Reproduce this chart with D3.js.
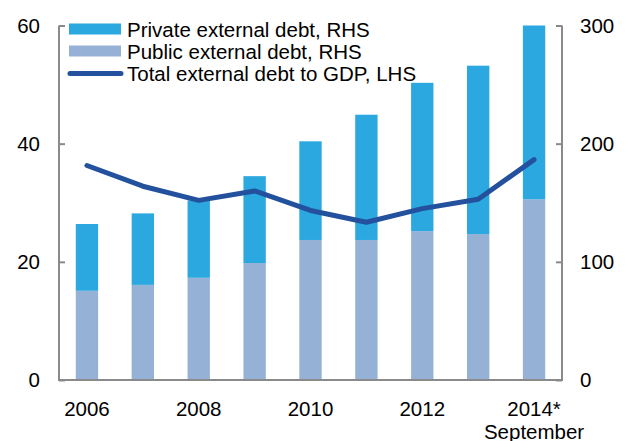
<!DOCTYPE html>
<html>
<head>
<meta charset="utf-8">
<title>External debt</title>
<script src="https://d3js.org/d3.v7.min.js"></script>
<style>
  body { margin: 0; background: #fff; }
  svg { display: block; font-family: "Liberation Sans", Arial, sans-serif; }
</style>
</head>
<body>
<div id="chart"></div>
<script>
// data
var years = ["2006", "2007", "2008", "2009", "2010", "2011", "2012", "2013", "2014*"];
var publicDebt = [75.5, 80.5, 86.5, 99, 118.5, 118.5, 126, 123.5, 153];
var privateDebt = [56.5, 60.5, 65.5, 73.5, 83.5, 106, 125.5, 142.5, 147];
var debtToGdp = [36.3, 32.8, 30.4, 32.0, 28.7, 26.7, 29.0, 30.6, 37.3];
var leftTicks = [0, 20, 40, 60];
var rightTicks = [0, 100, 200, 300];
var xLabels = ["2006", "2008", "2010", "2012", "2014*"];

var W = 626, H = 441;
var mLeft = 59, mRight = 562, mTop = 25.5, mBottom = 380;
var fs = 20.5;
var colPrivate = "#2ba8df", colPublic = "#95b2d6", colLine = "#23519e", colAxis = "#8a8a8c";

var svg = d3.select("#chart").append("svg")
    .attr("width", W).attr("height", H);

var x = d3.scaleBand()
    .domain(years)
    .range([mLeft, mRight])
    .paddingInner(0.6)
    .paddingOuter(0.3);

var yL = d3.scaleLinear().domain([0, 60]).range([mBottom, mTop]);
var yR = d3.scaleLinear().domain([0, 300]).range([mBottom, mTop]);

// bars - public at bottom, private stacked on top
var g = svg.append("g");
years.forEach(function (yr, i) {
    g.append("rect")
        .attr("x", x(yr)).attr("width", x.bandwidth())
        .attr("y", yR(publicDebt[i]))
        .attr("height", mBottom - yR(publicDebt[i]))
        .attr("fill", colPublic);
    g.append("rect")
        .attr("x", x(yr)).attr("width", x.bandwidth())
        .attr("y", yR(publicDebt[i] + privateDebt[i]))
        .attr("height", yR(publicDebt[i]) - yR(publicDebt[i] + privateDebt[i]))
        .attr("fill", colPrivate);
});

// line
var line = d3.line()
    .x(function (d, i) { return x(years[i]) + x.bandwidth() / 2; })
    .y(function (d) { return yL(d); });
svg.append("path")
    .datum(debtToGdp)
    .attr("d", line)
    .attr("fill", "none")
    .attr("stroke", colLine)
    .attr("stroke-width", 5)
    .attr("stroke-linejoin", "round")
    .attr("stroke-linecap", "round");

// axes
var axL = svg.append("g").attr("transform", "translate(" + mLeft + ",0)")
    .call(d3.axisRight(yL).tickValues(leftTicks).tickSize(6).tickFormat(""));
var axR = svg.append("g").attr("transform", "translate(" + mRight + ",0)")
    .call(d3.axisLeft(yR).tickValues(rightTicks).tickSize(6).tickFormat(""));
[axL, axR].forEach(function (a) {
    a.select(".domain").remove();
    a.selectAll("line").attr("stroke", colAxis).attr("stroke-width", 2);
});
svg.append("path")
    .attr("d", "M" + mLeft + "," + mTop + "V" + mBottom + "H" + mRight + "V" + mTop)
    .attr("fill", "none").attr("stroke", colAxis).attr("stroke-width", 2);

// tick labels
svg.selectAll(".ll").data(leftTicks).enter().append("text")
    .attr("x", 40).attr("y", function (d) { return yL(d) + 7; })
    .attr("text-anchor", "end").attr("font-size", fs)
    .text(function (d) { return d; });
svg.selectAll(".rl").data(rightTicks).enter().append("text")
    .attr("x", 580).attr("y", function (d) { return yR(d) + 7; })
    .attr("text-anchor", "start").attr("font-size", fs)
    .text(function (d) { return d; });
svg.selectAll(".xl").data(xLabels).enter().append("text")
    .attr("x", function (d) { return x(d) + x.bandwidth() / 2; })
    .attr("y", 416)
    .attr("text-anchor", "middle").attr("font-size", fs)
    .text(function (d) { return d; });
svg.append("text")
    .attr("x", x("2014*") + x.bandwidth() / 2).attr("y", 439)
    .attr("text-anchor", "middle").attr("font-size", fs)
    .text("September");

// legend
var legend = [
    { label: "Private external debt, RHS", type: "rect", color: colPrivate },
    { label: "Public external debt, RHS", type: "rect", color: colPublic },
    { label: "Total external debt to GDP, LHS", type: "line", color: colLine }
];
legend.forEach(function (d, i) {
    var cy = 29 + i * 22;
    if (d.type === "rect") {
        svg.append("rect").attr("x", 69).attr("y", cy - 5.5)
            .attr("width", 52).attr("height", 11).attr("fill", d.color);
    } else {
        svg.append("line").attr("x1", 70).attr("x2", 121)
            .attr("y1", cy + 0.5).attr("y2", cy + 0.5)
            .attr("stroke", d.color).attr("stroke-width", 5)
            .attr("stroke-linecap", "round");
    }
    svg.append("text").attr("x", 127).attr("y", cy + 7.5)
        .attr("font-size", fs).text(d.label);
});
</script>
</body>
</html>
